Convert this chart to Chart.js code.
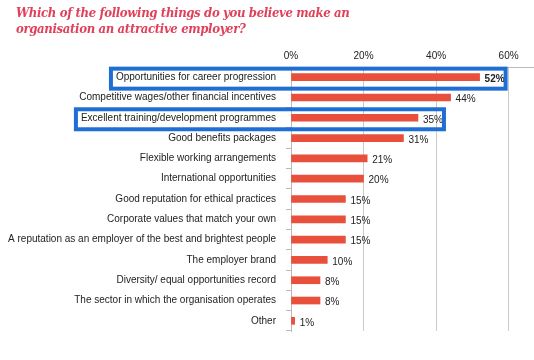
<!DOCTYPE html>
<html>
<head>
<meta charset="utf-8">
<script src="https://cdn.jsdelivr.net/npm/chart.js@4"></script>
<style>
    html, body { margin: 0; padding: 0; background: #fff; }
    #wrap { position: relative; width: 534px; height: 360px; }
    #title {
        position: absolute; left: 16px; top: 5px;
        font-family: "DejaVu Serif", serif; font-stretch: condensed;
        font-weight: bold; font-style: italic; letter-spacing: -0.35px;
        font-size: 13px; line-height: 16px; color: #e0405a;
    }
    #chart { position: absolute; left: 0; top: 0; }
</style>
</head>
<body>
<div id="wrap">
    <canvas id="chart" width="534" height="360"></canvas>
    <div id="title">Which of the following things do you believe make an<br>organisation an attractive employer?</div>
</div>
<script>
// --- Chart data ---
const categories = [
    'Opportunities for career progression',
    'Competitive wages/other financial incentives',
    'Excellent training/development programmes',
    'Good benefits packages',
    'Flexible working arrangements',
    'International opportunities',
    'Good reputation for ethical practices',
    'Corporate values that match your own',
    'A reputation as an employer of the best and brightest people',
    'The employer brand',
    'Diversity/ equal opportunities record',
    'The sector in which the organisation operates',
    'Other'
];
const values = [52, 44, 35, 31, 21, 20, 15, 15, 15, 10, 8, 8, 1];
const tickValues = [0, 20, 40, 60];
const highlighted = [0, 2]; // rows with a blue box round them

const labelFont = '10px "Liberation Sans", Arial, sans-serif';

// Draws the % labels at the end of each bar
const valueLabels = {
    id: 'valueLabels',
    afterDatasetsDraw(chart) {
        const ctx = chart.ctx;
        const meta = chart.getDatasetMeta(0);
        ctx.save();
        ctx.fillStyle = '#222';
        ctx.textBaseline = 'middle';
        meta.data.forEach((bar, i) => {
            ctx.font = (i === 0 ? 'bold ' : '') + labelFont;
            ctx.fillText(values[i] + '%', bar.x + 5, bar.y + 2);
        });
        ctx.restore();
    }
};

// Blue boxes round the highlighted rows
const highlightBoxes = {
    id: 'highlightBoxes',
    afterDraw(chart) {
        const ctx = chart.ctx;
        const yScale = chart.scales.y;
        const meta = chart.getDatasetMeta(0);
        ctx.save();
        ctx.strokeStyle = '#1f6ed4';
        ctx.lineWidth = 4;
        highlighted.forEach(i => {
            ctx.font = labelFont;
            const textW = ctx.measureText(categories[i]).width;
            const textRight = yScale.right - 15;
            ctx.font = (i === 0 ? 'bold ' : '') + labelFont;
            const valW = ctx.measureText(values[i] + '%').width;
            const yc = yScale.getPixelForValue(i);
            const left = textRight - textW - 5;
            const right = meta.data[i].x + 5 + valW + 1;
            ctx.strokeRect(left, yc - 8.5, right - left, 20);
        });
        ctx.restore();
    }
};

new Chart(document.getElementById('chart'), {
    type: 'bar',
    data: {
        labels: categories,
        datasets: [{
            data: values,
            backgroundColor: '#e8503c',
            barThickness: 7
        }]
    },
    options: {
        indexAxis: 'y',
        responsive: false,
        animation: false,
        layout: { padding: { top: 44, right: 0, bottom: 29, left: 0 } },
        plugins: {
            legend: { display: false },
            tooltip: { enabled: false }
        },
        scales: {
            x: {
                position: 'top',
                min: 0,
                max: 67,
                afterBuildTicks: scale => {
                    scale.ticks = tickValues.map(v => ({ value: v }));
                },
                afterFit: scale => { scale.height = 23; },
                ticks: {
                    callback: v => v + '%',
                    color: '#222',
                    padding: 5,
                    font: { family: '"Liberation Sans", Arial, sans-serif', size: 10 }
                },
                grid: { color: '#cfcaca', drawTicks: false },
                border: { color: '#bdb8b8' }
            },
            y: {
                afterFit: scale => { scale.width = 291; },
                ticks: {
                    color: '#222',
                    padding: 10,
                    font: { family: '"Liberation Sans", Arial, sans-serif', size: 10 }
                },
                grid: { drawOnChartArea: false, tickLength: 5, color: '#bdb8b8' },
                border: { color: '#bdb8b8' }
            }
        }
    },
    plugins: [valueLabels, highlightBoxes]
});
</script>
</body>
</html>
